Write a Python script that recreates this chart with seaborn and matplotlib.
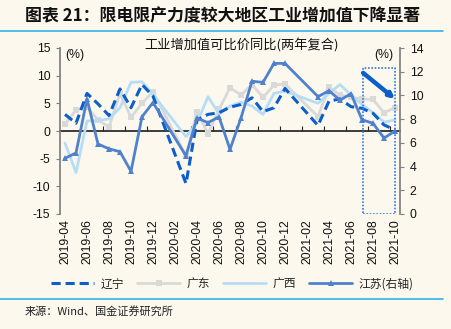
import numpy as np
import pandas as pd
import matplotlib
matplotlib.use("Agg")
import matplotlib.pyplot as plt
from matplotlib.patches import Rectangle
from matplotlib.lines import Line2D
import seaborn as sns

sns.set_theme(style="white")
plt.rcParams['font.family'] = ['Liberation Sans', 'Noto Sans CJK SC', 'DejaVu Sans']
plt.rcParams['axes.unicode_minus'] = False

# ---------------- data ----------------
months = ["2019-04", "2019-05", "2019-06", "2019-07", "2019-08", "2019-09", "2019-10", "2019-11", "2019-12",
          "2020-01", "2020-02", "2020-03", "2020-04", "2020-05", "2020-06", "2020-07", "2020-08", "2020-09",
          "2020-10", "2020-11", "2020-12", "2021-01", "2021-02", "2021-03", "2021-04", "2021-05", "2021-06",
          "2021-07", "2021-08", "2021-09", "2021-10"]
nan = np.nan
liaoning = [3.0, 1.4, 6.8, 4.9, 2.8, 7.6, 4.2, 8.4, 6.3, nan, nan, -9.5, 2.0, 3.0, 3.3, 4.3, 4.8, 6.0,
            3.5, 4.2, 7.7, nan, nan, 1.0, 5.4, 5.8, 4.4, 4.1, 3.2, 1.1, 0.2]
guangdong = [1.2, 3.8, 4.4, 2.0, 0.7, 6.8, 2.5, 5.0, 7.1, nan, nan, -4.5, 3.5, -0.5, 3.9, 7.8, 6.5, 8.4,
             6.1, 8.3, 8.5, nan, nan, 2.6, 7.9, 6.5, 6.1, 5.8, 5.7, 3.3, 4.2]
guangxi = [-2.2, -7.5, 1.8, 1.9, 2.2, 4.2, 8.8, 8.9, 6.6, nan, nan, -1.0, 1.5, 6.2, 3.1, 4.5, 5.2, 4.5,
           3.0, 6.8, 7.2, nan, nan, 5.0, 6.8, 8.4, 6.5, 4.8, 3.3, 1.6, 2.0]
jiangsu = [4.7, 5.15, 9.7, 5.9, 5.5, 5.25, 3.6, 8.2, 9.4, nan, nan, 4.9, 8.1, 7.7, 8.2, 5.45, 8.1, 11.2,
           11.1, 12.7, 12.7, nan, nan, 9.9, 10.4, 9.6, 10.15, 7.95, 7.65, 6.4, 7.0]
names = ["辽宁", "广东", "广西", "江苏(右轴)"]
tick_labels = months[::2]
left_ticks = [-15, -10, -5, 0, 5, 10, 15]
right_ticks = [0, 2, 4, 6, 8, 10, 12, 14]
highlight = ["2021-07", "2021-10"]
trend = [11.9, 9.7]

# ---------------- styles ----------------
bg = "#FCF8EE"
c_ln = "#0B5FCB"
c_gd = "#D9D9D9"
c_gx = "#B7DDF5"
c_js = "#4F81CD"
c_box = "#2A7BE0"
c_rule = "#33B5EA"

pos = np.arange(len(months))
df = pd.DataFrame({"pos": pos, "辽宁": liaoning, "广东": guangdong, "广西": guangxi, "江苏": jiangsu})

fig = plt.figure(figsize=(4.51, 3.29), dpi=100, facecolor=bg)
ax = fig.add_axes([60/451, 1-214/329, 340/451, 166/329])
ax.set_facecolor(bg)
ax2 = ax.twinx()

d = df[["pos", "广东"]].dropna()
sns.lineplot(data=d, x="pos", y="广东", ax=ax, color=c_gd, lw=2.0, marker="s", markersize=5,
             markeredgewidth=0, zorder=2)
d = df[["pos", "广西"]].dropna()
sns.lineplot(data=d, x="pos", y="广西", ax=ax, color=c_gx, lw=2.0, zorder=3)
d = df[["pos", "辽宁"]].dropna()
sns.lineplot(data=d, x="pos", y="辽宁", ax=ax, color=c_ln, lw=2.2, zorder=4,
             dashes=False)
ax.get_lines()[-1].set_dashes([3, 1.6])
d = df[["pos", "江苏"]].dropna()
sns.lineplot(data=d, x="pos", y="江苏", ax=ax2, color=c_js, lw=2.0, marker="^", markersize=4.5,
             markeredgewidth=0, zorder=5)

xmin, xmax = -0.4545, len(months) - 1 + 0.4545
for a in (ax, ax2):
    a.set_xlim(xmin, xmax)
    a.set_xlabel("")
    a.set_ylabel("")
    a.grid(False)
ax.set_ylim(-15, 15)
ax2.set_ylim(0, 14)
ax.set_yticks(left_ticks)
ax.set_yticklabels([str(v) for v in left_ticks])
ax2.set_yticks(right_ticks)
ax2.set_yticklabels([str(v) for v in right_ticks])

ax.set_xticks(pos[::2])
ax.set_xticklabels(tick_labels, rotation=90, fontsize=8.8, color="#111111")
ax.tick_params(axis="x", length=0, pad=4)
ax.tick_params(axis="y", direction="out", length=3, width=0.8, color="#7F7F7F",
               labelsize=8.8, labelcolor="#111111", pad=4, left=True)
ax2.tick_params(axis="y", direction="out", length=3, width=0.8, color="#7F7F7F",
                labelsize=8.8, labelcolor="#111111", pad=4, right=True)

for a in (ax, ax2):
    a.spines["top"].set_visible(False)
    a.spines["bottom"].set_visible(False)
ax.spines["right"].set_visible(False)
ax2.spines["left"].set_color("#7F7F7F")
ax2.spines["right"].set_color("#7F7F7F")
ax.spines["left"].set_color("#7F7F7F")
ax2.spines["left"].set_visible(False)

# zero line with category ticks
sec = ax.secondary_xaxis(0.5)
sec.set_xticks(pos[1:-1:2] + 0.5)
sec.set_xticklabels([])
sec.tick_params(axis="x", direction="out", length=3.5, width=0.8, color="#222222")
sec.spines["bottom"].set_color("#222222")
sec.spines["bottom"].set_linewidth(0.9)

# highlight box and arrow
i0 = months.index(highlight[0])
i1 = months.index(highlight[1])
ax2.add_patch(Rectangle((i0 + 0.1, 0), (i1 - i0) - 0.1, 12.3, fill=False, ls=(0, (1, 1)),
                        lw=1.2, ec=c_box, zorder=6))
ax2.annotate("", xy=(i1, trend[1]), xytext=(i0 + 0.1, trend[0]),
             arrowprops=dict(arrowstyle="-|>", lw=3.2, color=c_ln, mutation_scale=7,
                             shrinkA=0, shrinkB=0), zorder=7)

# texts
fig.text(242/451, 1-45/329, "工业增加值可比价同比(两年复合)", ha="center", va="center",
         fontsize=9.5, family=["Noto Sans CJK SC"], color="#111111")
fig.text(65/451, 1-55/329, "(%)", ha="left", va="center", fontsize=8.8, color="#111111")
fig.text(393/451, 1-55/329, "(%)", ha="right", va="center", fontsize=8.8, color="#111111")

fig.text(25/451, 1-16/329, "图表 21：限电限产力度较大地区工业增加值下降显著", ha="left", va="center",
         fontsize=12.2, fontweight="bold", family=["Noto Sans CJK SC"], color="#111111",
         style="italic")
fig.add_artist(Line2D([0.0, 443/451], [1-31/329, 1-31/329], color=c_rule, lw=1.2,
                      transform=fig.transFigure))
fig.add_artist(Line2D([0.0, 443/451], [1-299/329, 1-299/329], color=c_rule, lw=1.2,
                      transform=fig.transFigure))
fig.text(25/451, 1-311/329, "来源：Wind、国金证券研究所", ha="left", va="center",
         fontsize=8, family=["Noto Sans CJK SC", "Liberation Sans"], color="#222222")

# legend
handles = [
    Line2D([], [], color=c_ln, lw=2.2, dashes=[3, 1.6]),
    Line2D([], [], color=c_gd, lw=2.0, marker="s", markersize=5, markeredgewidth=0),
    Line2D([], [], color=c_gx, lw=2.0),
    Line2D([], [], color=c_js, lw=2.0, marker="^", markersize=4.5, markeredgewidth=0),
]
fig.legend(handles, names, loc="center", bbox_to_anchor=(232/451, 1-284/329), ncol=4,
           frameon=False, handlelength=3.7, handletextpad=0.5, columnspacing=1.1,
           prop={"family": ["Noto Sans CJK SC"], "size": 8.5})

fig.savefig("out.png", dpi=100, facecolor=bg)
